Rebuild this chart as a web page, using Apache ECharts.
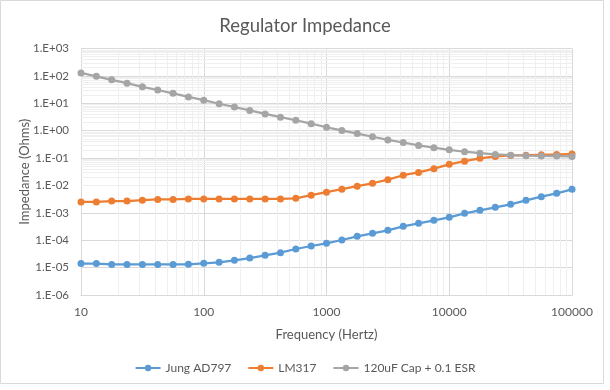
<!DOCTYPE html>
<html>
<head>
<meta charset="utf-8">
<script src="https://cdn.jsdelivr.net/npm/echarts@6/dist/echarts.min.js"></script>
<style>
html,body{margin:0;padding:0;background:#fff;}
#c{width:610px;height:390px;}
</style>
</head>
<body>
<div id="c"></div>
<script>
const titleText = 'Regulator Impedance';
const xAxisTitle = 'Frequency (Hertz)';
const yAxisTitle = 'Impedance (Ohms)';
const seriesNames = ['Jung AD797', 'LM317', '120uF Cap + 0.1 ESR'];

const freq = [10, 13.34, 17.78, 23.71, 31.62, 42.17, 56.23, 74.99, 100, 133.4, 177.8, 237.1, 316.2, 421.7, 562.3, 749.9,
  1000, 1334, 1778, 2371, 3162, 4217, 5623, 7499, 10000, 13335, 17783, 23714, 31623, 42170, 56234, 74989, 100000];

const jung = [1.4e-5, 1.4e-5, 1.3e-5, 1.3e-5, 1.3e-5, 1.3e-5, 1.3e-5, 1.32e-5, 1.44e-5, 1.56e-5, 1.85e-5, 2.24e-5, 2.81e-5,
  3.5e-5, 4.78e-5, 6.15e-5, 7.7e-5, 1.02e-4, 1.39e-4, 1.79e-4, 2.3e-4, 3.22e-4, 4.14e-4, 5.33e-4, 6.86e-4, 9.6e-4,
  1.24e-3, 1.59e-3, 2.05e-3, 2.86e-3, 3.88e-3, 5.16e-3, 7.2e-3];

const lm317 = [0.0025, 0.0025, 0.0027, 0.0027, 0.0029, 0.0031, 0.0031, 0.0032, 0.0032, 0.0032, 0.0032, 0.0032, 0.0032,
  0.0032, 0.0034, 0.0044, 0.0057, 0.0073, 0.0094, 0.012, 0.0163, 0.0236, 0.030, 0.041, 0.059, 0.077, 0.098, 0.115,
  0.124, 0.127, 0.132, 0.135, 0.14];

const capEsr = [128, 96, 72, 54, 40, 30.5, 23, 17, 13, 9.6, 7.3, 5.5, 4.1, 3.1, 2.4, 1.8, 1.33, 1.02, 0.78, 0.6, 0.46,
  0.37, 0.29, 0.24, 0.2, 0.17, 0.15, 0.135, 0.127, 0.122, 0.12, 0.118, 0.114];

const xMin = 10, xMax = 100000, yMin = 1e-6, yMax = 1e3;
const colors = ['#5b9bd5', '#ed7d31', '#a5a5a5'];
const FONT = 'Lato';

function pairs(xs, ys) { return xs.map((x, i) => [x, ys[i]]); }

// minor grid positions (2..9 within each decade)
const minorX = [], minorY = [];
for (let d = xMin; d < xMax; d *= 10) for (let m = 2; m <= 9; m++) minorX.push({ xAxis: m * d });
for (let e = -6; e < 3; e++) { const d = Math.pow(10, e); for (let m = 2; m <= 9; m++) minorY.push({ yAxis: m * d }); }

function fmtY(v) {
  const e = Math.round(Math.log10(v));
  return '1.E' + (e < 0 ? '-' : '+') + String(Math.abs(e)).padStart(2, '0');
}

const chart = echarts.init(document.getElementById('c'), null, { renderer: 'canvas' });

const mkSeries = (name, ys, i) => ({
  name: name, type: 'line', data: pairs(freq, ys), z: 10 + i,
  symbol: 'circle', symbolSize: 7, showSymbol: true,
  lineStyle: { color: colors[i], width: 2.25 },
  itemStyle: { color: colors[i] },
  emphasis: { disabled: true }
});

chart.setOption({
  animation: false,
  backgroundColor: '#fff',
  title: {
    text: titleText, left: 'center', top: 12,
    textStyle: { fontFamily: FONT, fontSize: 18.5, fontWeight: 'normal', color: '#595959' }
  },
  graphic: [{
    type: 'rect', shape: { x: 0.5, y: 0.5, width: 603, height: 383 },
    style: { fill: null, stroke: '#d9d9d9', lineWidth: 1 }, silent: true, z: 100
  }],
  legend: {
    data: seriesNames, left: 'center', top: 357,
    itemWidth: 25, itemHeight: 8, itemGap: 16,
    textStyle: { fontFamily: FONT, fontSize: 12, color: '#595959' }
  },
  grid: { left: 81, right: 38, top: 48.5, bottom: 95, containLabel: false },
  xAxis: {
    type: 'log', logBase: 10, min: xMin, max: xMax, splitNumber: 4,
    name: xAxisTitle, nameLocation: 'middle', nameGap: 33,
    nameTextStyle: { fontFamily: FONT, fontSize: 13, color: '#595959' },
    axisLine: { show: true, lineStyle: { color: '#d9d9d9' } },
    axisTick: { show: false },
    axisLabel: { fontFamily: FONT, fontSize: 12, color: '#595959', margin: 11, formatter: v => String(Math.round(v)) },
    splitLine: { show: true, lineStyle: { color: '#d9d9d9', width: 1 } }
  },
  yAxis: {
    type: 'log', logBase: 10, min: yMin, max: yMax, splitNumber: 9,
    name: yAxisTitle, nameLocation: 'middle', nameGap: 50, nameRotate: 90, nameMoveOverlap: false,
    nameTextStyle: { fontFamily: FONT, fontSize: 13, color: '#595959' },
    axisLine: { show: true, lineStyle: { color: '#d9d9d9' } },
    axisTick: { show: false },
    axisLabel: { fontFamily: FONT, fontSize: 11.5, color: '#595959', margin: 12, formatter: fmtY },
    splitLine: { show: true, lineStyle: { color: '#d9d9d9', width: 1 } }
  },
  series: [
    {
      name: 'minor-grid', type: 'line', data: [], z: 1, silent: true,
      markLine: {
        z: 1, silent: true, symbol: ['none', 'none'], label: { show: false },
        lineStyle: { color: '#efefef', width: 1, type: 'solid' },
        emphasis: { disabled: true },
        data: minorX.concat(minorY)
      }
    },
    mkSeries(seriesNames[0], jung, 0),
    mkSeries(seriesNames[1], lm317, 1),
    mkSeries(seriesNames[2], capEsr, 2)
  ]
});
</script>
</body>
</html>
